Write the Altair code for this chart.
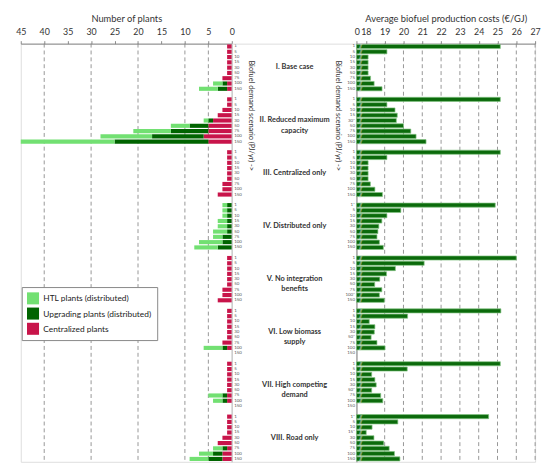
import altair as alt
import pandas as pd

# ---------------- data ----------------
demand = ["1", "5", "10", "15", "30", "50", "75", "100", "150"]
scenario_ids = ["I", "II", "III", "IV", "V", "VI", "VII", "VIII"]
scenario_titles = [
    "I. Base case",
    "II. Reduced maximum\ncapacity",
    "III. Centralized only",
    "IV. Distributed only",
    "V. No integration\nbenefits",
    "VI. Low biomass\nsupply",
    "VII. High competing\ndemand",
    "VIII. Road only",
]

# number of plants per scenario (rows) and demand level (columns)
centralized = [
    [1, 1, 1, 1, 1, 1, 2, 1, 1],
    [1, 1, 2, 3, 4, 5, 5, 6, 5],
    [1, 1, 1, 1, 1, 1, 2, 2, 3],
    [0, 0, 0, 0, 0, 0, 0, 0, 0],
    [1, 1, 1, 1, 1, 1, 2, 2, 3],
    [1, 1, 1, 1, 1, 1, 2, 1, 0],
    [1, 1, 1, 1, 1, 1, 1, 1, 0],
    [1, 1, 1, 1, 2, 3, 1, 2, 2],
]
upgrading = [
    [0, 0, 0, 0, 0, 0, 0, 1, 2],
    [0, 0, 0, 0, 1, 4, 8, 11, 20],
    [0, 0, 0, 0, 0, 0, 0, 0, 0],
    [1, 1, 1, 1, 1, 1, 2, 2, 3],
    [0, 0, 0, 0, 0, 0, 0, 0, 0],
    [0, 0, 0, 0, 0, 0, 0, 1, 0],
    [0, 0, 0, 0, 0, 0, 1, 1, 0],
    [0, 0, 0, 0, 0, 0, 1, 2, 3],
]
htl = [
    [0, 0, 0, 0, 0, 0, 0, 2, 4],
    [0, 0, 0, 0, 1, 4, 8, 11, 20],
    [0, 0, 0, 0, 0, 0, 0, 0, 0],
    [1, 1, 1, 2, 2, 3, 2, 5, 5],
    [0, 0, 0, 0, 0, 0, 0, 0, 0],
    [0, 0, 0, 0, 0, 0, 0, 4, 0],
    [0, 0, 0, 0, 0, 0, 3, 2, 0],
    [0, 0, 0, 0, 0, 0, 2, 3, 4],
]

# average biofuel production costs (EUR/GJ); None = no result
cost = [
    [25.15, 19.12, 18.12, 18.12, 18.12, 18.12, 18.25, 18.44, 18.86],
    [25.15, 19.12, 19.55, 19.67, 19.62, 20.00, 20.39, 20.67, 21.20],
    [25.15, 19.12, 18.12, 18.12, 18.12, 18.12, 18.24, 18.48, 18.88],
    [24.88, 19.86, 19.12, 18.85, 18.69, 18.64, 18.59, 18.72, 18.93],
    [26.00, 21.10, 19.57, 19.10, 18.74, 18.47, 18.85, 18.72, 18.98],
    [25.18, 20.22, 18.18, 18.48, 18.45, 18.28, 18.59, 19.02, None],
    [25.15, 20.20, 18.31, 18.48, 18.55, 18.31, 18.79, 18.90, None],
    [24.53, 19.70, 18.33, 18.02, 18.43, 18.95, 19.24, 19.52, 19.81],
]
cost_labels = [
    ["1", "5", "10", "15", "30", "50", "75", "100", "150"],
    ["1", "5", "10", "15", "30*", "50", "75", "100", "150"],
    ["1", "5", "10", "15", "30", "50", "75", "100", "150"],
    ["1*", "5", "10", "15", "30", "50", "75", "100", "150"],
    ["1", "5", "10", "15", "30", "50", "75", "100*", "150"],
    ["1", "5", "10", "15", "30", "50*", "75", "100", "150"],
    ["1", "5", "10", "15", "30", "50*", "75", "100", "150"],
    ["1*", "5", "10", "15*", "30", "50", "75", "100", "150"],
]

plant_types = ["HTL plants (distributed)", "Upgrading plants (distributed)", "Centralized plants"]
plant_colors = ["#72e072", "#006400", "#c8144a"]
left_grid = [5, 10, 20, 30, 40]
left_ticks = [0, 5, 10, 15, 20, 25, 30, 35, 40, 45]
right_grid = [19, 20, 21, 22, 23, 24, 25, 26, 27]
right_ticks = [17.52, 18, 19, 20, 21, 22, 23, 24, 25, 26, 27]

# ---------------- tables ----------------
keys_left, keys_right = [], []
for si, sid in enumerate(scenario_ids):
    for di, d in enumerate(demand):
        keys_left.append(f"{sid}|{d}")
        keys_right.append(f"{sid}|{cost_labels[si][di]}")
    if si < len(scenario_ids) - 1:
        keys_left.append(f"{sid}|")
        keys_right.append(f"{sid}|")

rows = []
for si, sid in enumerate(scenario_ids):
    for di, d in enumerate(demand):
        for name, arr, o in [(plant_types[2], centralized, 0),
                             (plant_types[1], upgrading, 1),
                             (plant_types[0], htl, 2)]:
            v = arr[si][di]
            if v:
                rows.append({"key": f"{sid}|{d}", "type": name, "n": v, "ord": o})
df_plants = pd.DataFrame(rows)

crow = []
for si, sid in enumerate(scenario_ids):
    for di, d in enumerate(demand):
        c = cost[si][di]
        if c is not None:
            crow.append({"key": f"{sid}|{cost_labels[si][di]}", "cost": c})
df_cost = pd.DataFrame(crow)

df_titles = pd.DataFrame({"key": [f"{sid}|30" for sid in scenario_ids],
                          "label": scenario_titles})

H = 426
FONT = "Lato"
ytitle = "Biofuel demand scenario (PJ/yr) ->"

# ---------------- left panel ----------------
xs_left = alt.Scale(domain=[0, 45], reverse=True, nice=False, zero=True)
ax_left = alt.Axis(orient="top", values=left_ticks, title="Number of plants",
                   titleFontSize=9.5, titleFontWeight="normal", labelFontSize=9,
                   tickSize=3, labelPadding=4, titlePadding=5, grid=False,
                   labelFlush=False, labelOverlap=False)
ys_left = alt.Scale(domain=keys_left, paddingInner=0.22, paddingOuter=0.15)

grid_l = alt.Chart(pd.DataFrame({"v": left_grid})).mark_rule(
    color="#8a8a8a", strokeDash=[4, 3], strokeWidth=0.9
).encode(x=alt.X("v:Q", scale=xs_left, axis=ax_left))

bars_l = alt.Chart(df_plants).mark_bar().encode(
    x=alt.X("n:Q", stack="zero", scale=xs_left, axis=ax_left),
    y=alt.Y("key:N", scale=ys_left, sort=None,
            axis=alt.Axis(orient="right", labelExpr="split(datum.value, '|')[1]",
                          labelFontSize=4.5, labelColor="#555", ticks=False,
                          labelPadding=2, domainColor="#888", title=ytitle,
                          titleFontSize=7.5, titleFontWeight="normal",
                          titleAngle=90, titleX=19, titleY=73,
                          titleAlign="center", titleBaseline="middle")),
    color=alt.Color("type:N",
                    scale=alt.Scale(domain=plant_types, range=plant_colors),
                    legend=alt.Legend(title=None, orient="none", legendX=1, legendY=248,
                                      symbolType="square", symbolSize=150,
                                      symbolStrokeWidth=0, labelFontSize=8.5,
                                      labelColor="#222", rowPadding=2.5, padding=5,
                                      strokeColor="#888", fillColor="white",
                                      labelLimit=200)),
    order=alt.Order("ord:Q"),
)
left = alt.layer(grid_l, bars_l).properties(width=215, height=H)

# ---------------- middle labels ----------------
mid = alt.Chart(df_titles).mark_text(
    fontWeight="bold", fontSize=7.5, lineBreak="\n", lineHeight=10.5,
    align="center", baseline="middle", color="#333"
).encode(
    y=alt.Y("key:N", scale=alt.Scale(domain=keys_left, paddingInner=0.22, paddingOuter=0.15),
            sort=None, axis=None),
    x=alt.value(64),
    text="label:N",
).properties(width=127, height=H)

# ---------------- right panel ----------------
xs_right = alt.Scale(domain=[17.5, 27], nice=False, zero=False)
ax_right = alt.Axis(orient="top", values=right_ticks,
                    title="Average biofuel production costs (€/GJ)",
                    titleFontSize=9.5, titleFontWeight="normal", labelFontSize=9,
                    tickSize=3, labelPadding=4, titlePadding=5, grid=False,
                    labelFlush=False, labelOverlap=False,
                    labelExpr="datum.value < 17.9 ? '0' : datum.label")
ys_right = alt.Scale(domain=keys_right, paddingInner=0.22, paddingOuter=0.15)
ax_y_right = alt.Axis(orient="left", labelExpr="split(datum.value, '|')[1]",
                      labelFontSize=4.5, labelColor="#555", ticks=False,
                      labelPadding=2, domainColor="#888", title=ytitle,
                      titleFontSize=7.5, titleFontWeight="normal",
                      titleAngle=90, titleX=-19, titleY=73,
                      titleAlign="center", titleBaseline="middle")

grid_r = alt.Chart(pd.DataFrame({"v": right_grid})).mark_rule(
    color="#8a8a8a", strokeDash=[4, 3], strokeWidth=0.9
).encode(x=alt.X("v:Q", scale=xs_right, axis=ax_right))

bars_r = alt.Chart(df_cost).mark_bar(
    color="#0b6a0b", stroke="#86c486", strokeWidth=0.7
).encode(
    x=alt.X("cost:Q", scale=xs_right, axis=ax_right),
    x2=alt.datum(17.5),
    y=alt.Y("key:N", scale=ys_right, sort=None, axis=ax_y_right),
)

breaks_r = alt.Chart(df_cost).mark_text(
    text="//", fontSize=5, fontWeight="bold", color="#dcdcdc"
).encode(
    x=alt.XDatum(17.72, scale=xs_right, axis=ax_right),
    y=alt.Y("key:N", scale=ys_right, sort=None, axis=ax_y_right),
)

right = alt.layer(grid_r, bars_r, breaks_r).properties(width=182, height=H)

chart = alt.hconcat(left, mid, right, spacing=0, bounds="flush").resolve_scale(
    color="independent"
).resolve_legend(color="independent").properties(
    padding={"left": 7, "top": 0, "right": 0, "bottom": 0}
).configure_view(stroke=None).configure(font=FONT).configure_axis(
    labelFont=FONT, titleFont=FONT, titleColor="#333", labelColor="#333",
    domainColor="#888", tickColor="#888", titleFontWeight="normal"
).configure_text(font=FONT)

chart.save("out.html", embed_options={"renderer": "svg", "actions": False})
